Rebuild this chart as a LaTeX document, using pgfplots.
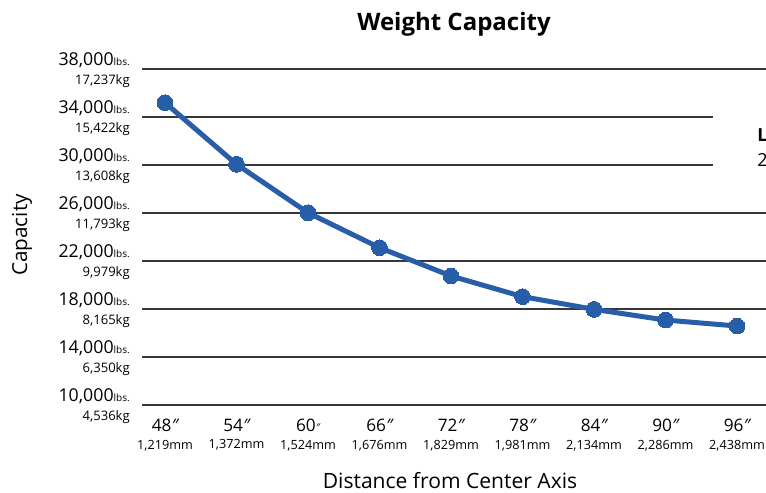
\documentclass[border=0pt]{standalone}
\usepackage{pgfplots}
\pgfplotsset{compat=1.18}
\usepackage{fontspec}
\setmainfont{Open Sans}
\definecolor{lineblue}{RGB}{40,94,168}
\definecolor{gridgray}{RGB}{55,55,55}
\newcommand{\lb}[2]{#1{\fontsize{7.5pt}{8pt}\selectfont lbs.}\\[0.8pt]{\fontsize{9.8pt}{11pt}\selectfont #2}}
\newcommand{\xl}[2]{#1\\[-1pt]{\fontsize{9.5pt}{11pt}\selectfont #2}}
\newcommand{\ip}{{\itshape ″}}
\begin{document}
\begin{tikzpicture}[x=0.75pt,y=0.75pt]
\useasboundingbox (0,0) rectangle (766,492);
\begin{axis}[
  at={(106.5pt,65.25pt)}, anchor=south west,
  scale only axis, width=468pt, height=252pt,
  xmin=46.07, xmax=98.43, ymin=10000, ymax=38000,
  axis line style={draw=none},
  major tick length=0pt,
  clip=false,
  scaled y ticks=false,
  ytick={10000,14000,...,38000},
  ymajorgrids,
  grid style={line width=1.5pt, color=gridgray},
  xtick={48,54,...,96},
  xticklabels={
    \xl{48\ip}{1,219mm},
    \xl{54\ip}{1,372mm},
    \xl{60{\fontsize{8pt}{8pt}\selectfont\itshape ″}}{1,524mm},
    \xl{66\ip}{1,676mm},
    \xl{72\ip}{1,829mm},
    \xl{78\ip}{1,981mm},
    \xl{84\ip}{2,134mm},
    \xl{90\ip}{2,286mm},
    \xl{96\ip}{2,438mm}},
  yticklabels={
    \lb{10,000}{4,536kg},
    \lb{14,000}{6,350kg},
    \lb{18,000}{8,165kg},
    \lb{22,000}{9,979kg},
    \lb{26,000}{11,793kg},
    \lb{30,000}{13,608kg},
    \lb{34,000}{15,422kg},
    \lb{38,000}{17,237kg}},
  yticklabel style={font=\fontsize{13.3pt}{14pt}\selectfont, align=right, anchor=east, inner sep=0pt, xshift=-9pt, yshift=-0.8pt},
  xticklabel style={font=\fontsize{12.9pt}{14pt}\selectfont, align=center, anchor=north, inner sep=0pt, yshift=-10.5pt},
  xlabel={Distance from Center Axis},
  ylabel={Capacity},
  xlabel style={at={(axis description cs:0.4936,0)}, anchor=base, inner sep=0pt, yshift=-62.3pt, font=\fontsize{15.8pt}{17pt}\selectfont},
  ylabel style={at={(axis description cs:-0.1923,0.506)}, anchor=center, rotate=0, font=\fontsize{15.5pt}{17pt}\selectfont},
]
\addplot[color=lineblue, line width=3.75pt, mark=*, mark size=5.9pt, mark options={fill=lineblue, draw=lineblue, line width=0pt}]
coordinates {
(48,35190) (54,30060) (60,26020) (66,23110) (72,20750) (78,19030) (84,17970) (90,17080) (96,16580)
};
\end{axis}
\fill[white] (713,302) rectangle (770,400);
\node[anchor=base west, inner sep=0pt, font=\bfseries\fontsize{13.5pt}{15pt}\selectfont] at (757,350) {L};
\node[anchor=base west, inner sep=0pt, font=\fontsize{13.5pt}{15pt}\selectfont] at (757,325) {2};
\node[anchor=base, inner sep=0pt, font=\bfseries\fontsize{18pt}{20pt}\selectfont] at (454,461) {Weight Capacity};
\end{tikzpicture}
\end{document}
